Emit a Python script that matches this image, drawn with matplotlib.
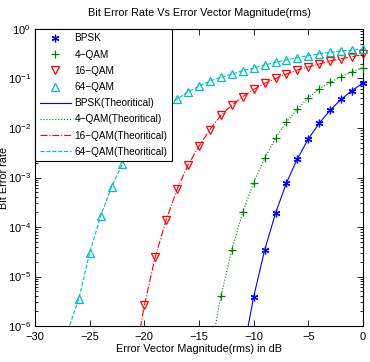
import numpy as np
import matplotlib

matplotlib.use("Agg")
import matplotlib.pyplot as plt
from matplotlib.ticker import LogLocator, NullFormatter

plt.rcParams["font.family"] = ["Liberation Sans", "DejaVu Sans"]
plt.rcParams["mathtext.fontset"] = "custom"
plt.rcParams["mathtext.rm"] = "Liberation Sans"

# EVM (dB) and BER
bpsk_x = list(range(-11, 1))
bpsk = [2.6e-7, 3.9e-6, 3.4e-5, 1.9e-4, 7.8e-4, 2.4e-3, 6.0e-3, 1.25e-2,
        2.3e-2, 3.8e-2, 5.7e-2, 8.1e-2]

qam4_x = list(range(-14, 1))
qam4 = [2.5e-7, 4.0e-6, 3.5e-5, 2.0e-4, 7.9e-4, 2.44e-3, 6.2e-3, 1.33e-2,
        2.4e-2, 4.1e-2, 6.2e-2, 8.4e-2, 0.109, 0.138, 0.165]

qam16_x = list(range(-21, 1))
qam16 = [1.5e-7, 2.6e-6, 2.5e-5, 1.4e-4, 5.8e-4, 1.8e-3, 4.3e-3, 9.3e-3,
         1.8e-2, 2.9e-2, 4.3e-2, 6.0e-2, 8.0e-2, 0.10, 0.123, 0.149, 0.171,
         0.196, 0.226, 0.251, 0.275, 0.308]

qam64_x = list(range(-27, 1))
qam64 = [8e-7, 3.5e-6, 3.0e-5, 1.66e-4, 6.5e-4, 1.9e-3, 5e-3, 1.0e-2,
         1.8e-2, 2.7e-2, 3.85e-2, 5.4e-2, 7.0e-2, 8.9e-2, 0.106, 0.122,
         0.144, 0.163, 0.187, 0.212, 0.237, 0.263, 0.289, 0.313, 0.338,
         0.36, 0.377, 0.39]

labels = ["BPSK", "4\u2212QAM", "16\u2212QAM", "64\u2212QAM"]
colors = [(0, 0, 1), (0, 0.5, 0), (1, 0, 0), (0, 0.75, 0.75)]
markers = [(6, 2, 0), "+", "v", "^"]  # asterisk like matlab '*'
msizes = [5.5, 5.5, 5.5, 5.5]
linestyles = ["-", ":", "-.", "--"]

fig = plt.figure(figsize=(3.70, 3.62), dpi=100)
ax = fig.add_axes([0.0946, 0.0994, 0.8865, 0.8205])

series = [(bpsk_x, bpsk), (qam4_x, qam4), (qam16_x, qam16), (qam64_x, qam64)]

# measured points
for (xs, ys), lab, c, m, ms in zip(series, labels, colors, markers, msizes):
    xs = np.array(xs)
    ys = np.array(ys)
    keep = ys >= 1e-6
    face = "none" if m in ("v", "^") else c
    ax.plot(xs[keep], ys[keep], linestyle="none", marker=m, color=c,
            markerfacecolor=face, markersize=ms, markeredgewidth=0.9,
            label=lab, clip_on=False, zorder=3)

# theoretical curves
for (xs, ys), lab, c, ls in zip(series, labels, colors, linestyles):
    ax.plot(xs, ys, linestyle=ls, color=c, linewidth=0.8,
            label=lab + "(Theoritical)", zorder=2)

ax.set_yscale("log")
ax.set_xlim(-30, 0)
ax.set_ylim(1e-6, 1)
ax.set_xticks([-30, -25, -20, -15, -10, -5, 0])
ax.set_xticklabels(["\u221230", "\u221225", "\u221220", "\u221215",
                    "\u221210", "\u22125", "0"])
ax.yaxis.set_major_locator(LogLocator(base=10, numticks=10))
ax.yaxis.set_minor_locator(LogLocator(base=10, subs=np.arange(2, 10), numticks=10))
ax.yaxis.set_minor_formatter(NullFormatter())
ax.tick_params(which="both", direction="in", top=True, right=True,
               labelsize=8, width=0.6, pad=3)
ax.tick_params(axis="x", pad=4)
ax.tick_params(which="major", length=4)
ax.tick_params(which="minor", length=2)
for s in ax.spines.values():
    s.set_linewidth(0.8)

ax.set_title("Bit Error Rate Vs Error Vector Magnitude(rms)", fontsize=7.8, pad=9)
ax.set_xlabel("Error Vector Magnitude(rms) in dB", fontsize=7.8, labelpad=2)
ax.set_ylabel("Bit Error rate", fontsize=7.8, labelpad=-1)

leg = ax.legend(loc="upper left", borderaxespad=0, fontsize=7.2,
                handlelength=3.1, handletextpad=0.4, labelspacing=0.62,
                borderpad=0.45, fancybox=False, framealpha=1,
                edgecolor="black")
leg.get_frame().set_linewidth(0.8)
leg.set_zorder(5)

fig.savefig("out.png", dpi=100)
